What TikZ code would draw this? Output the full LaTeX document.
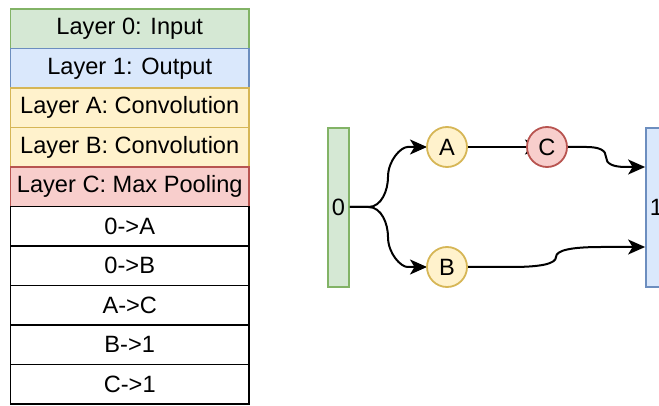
\documentclass[tikz,border=0pt]{standalone}
\usepackage{fontspec}
\setmainfont{Liberation Sans}
\usetikzlibrary{arrows.meta}

\definecolor{gfill}{HTML}{D5E8D4}\definecolor{gline}{HTML}{82B366}
\definecolor{bfill}{HTML}{DAE8FC}\definecolor{bline}{HTML}{6C8EBF}
\definecolor{yfill}{HTML}{FFF2CC}\definecolor{yline}{HTML}{D6B656}
\definecolor{rfill}{HTML}{F8CECC}\definecolor{rline}{HTML}{B85450}

\begin{document}
\begin{tikzpicture}[x=1pt,y=-1pt,
  every node/.style={font=\fontsize{23.6}{28}\selectfont, inner sep=0pt},
  tabrow/.style={draw, line width=1.8pt, minimum width=238.5pt, minimum height=39.5pt},
  layer/.style={draw, line width=1.8pt, minimum width=21pt, minimum height=159pt},
  unit/.style={circle, draw, line width=1.8pt, minimum size=40pt},
  green/.style={fill=gfill, draw=gline},
  blue/.style={fill=bfill, draw=bline},
  yellow/.style={fill=yfill, draw=yline},
  red/.style={fill=rfill, draw=rline},
  link/.style={line width=2pt, -{Stealth[length=17pt, width=15pt, inset=4.5pt]}}]
\useasboundingbox (0,0) rectangle (659,406);

% legend table
\node[tabrow, green]  (t0) at (129.75, 28.75)  {Layer 0: Input};
\node[tabrow, blue]   (t1) at (129.75, 68.25)  {Layer 1: Output};
\node[tabrow, yellow] (t2) at (129.75, 107.75) {Layer A: Convolution};
\node[tabrow, yellow] (t3) at (129.75, 147.25) {Layer B: Convolution};
\node[tabrow, red]    (t4) at (129.75, 186.75) {Layer C: Max Pooling};
\node[tabrow]         (t5) at (129.75, 226.25) {0->A};
\node[tabrow]         (t6) at (129.75, 265.75) {0->B};
\node[tabrow]         (t7) at (129.75, 305.25) {A->C};
\node[tabrow]         (t8) at (129.75, 344.75) {B->1};
\node[tabrow]         (t9) at (129.75, 384.25) {C->1};

% network
\node[layer, green] (n0) at (338.5, 207.5) {0};
\node[layer, blue]  (n1) at (656.5, 207.5) {1};

% connectors (drawn before the circles so C covers the end of A->C)
\coordinate (ac) at (542,147);
\draw[link] (n0.east |- 0,207) -- (368.5,207)
  .. controls (381.5,207) and (388,190.3) .. (388,177)
  .. controls (388,160.3) and (401,147) .. (407.5,147) -- (427,147);
\draw[link] (n0.east |- 0,207) -- (368.5,207)
  .. controls (381.5,207) and (388,223.7) .. (388,237)
  .. controls (388,253.7) and (401,267) .. (407.5,267) -- (427,267);
\draw[link] (467,147) -- (ac);
\draw[link] (567,147) -- (586.5,147)
  .. controls (599.5,147) and (606,150.3) .. (606,157)
  .. controls (606,163.7) and (612.7,167) .. (626,167) -- (n1.west |- 0,167);
\draw[link] (467,267) -- (511.5,267)
  .. controls (541.2,267) and (556,263.7) .. (556,257)
  .. controls (556,250.3) and (571,247) .. (601,247) -- (n1.west |- 0,247);

\node[unit, yellow] (a) at (447,147) {A};
\node[unit, yellow] (b) at (447,267) {B};
\node[unit, red]    (c) at (547,147) {C};
\end{tikzpicture}
\end{document}
